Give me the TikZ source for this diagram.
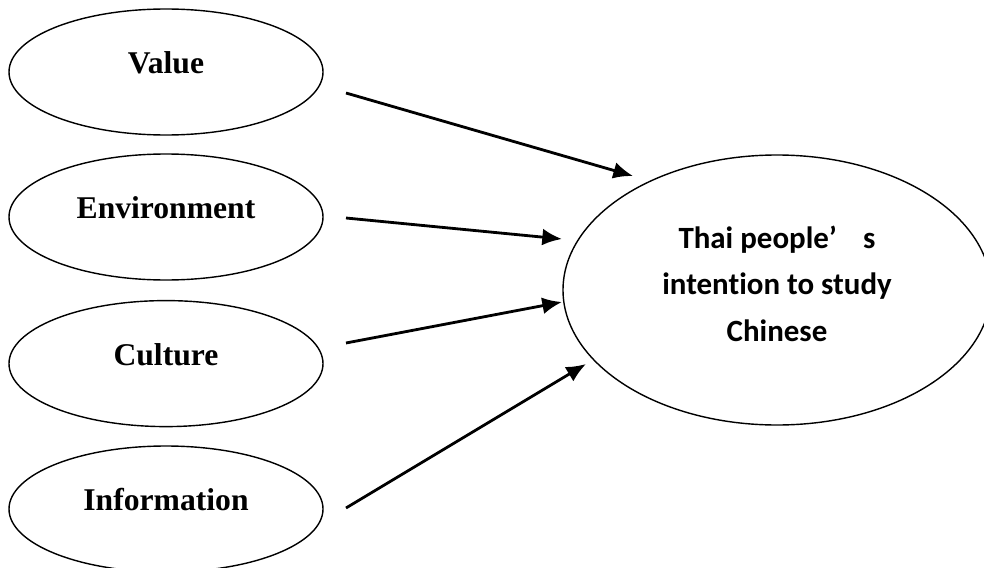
\documentclass[tikz,border=0pt]{standalone}
\usepackage{fontspec}
\setmainfont{Liberation Serif}
\newfontfamily\calibfont[Ligatures=NoCommon]{Carlito}
\usetikzlibrary{shapes.geometric, arrows.meta}

\begin{document}
\begin{tikzpicture}
        [every node/.style={inner sep=0}, ell/.style={draw,shape=ellipse,line width=1pt,minimum width=7.85cm,minimum height=3.15cm}, lab/.style={font=\fontsize{22.5}{27}\selectfont\bfseries}, arr/.style={-{Latex[length=14pt,width=12pt]}, line width=2pt}]

        \useasboundingbox (0, 0) rectangle (24.6, -14.175);

        \node[ell, label={[lab, yshift=0.225cm]center:{Value}}] (val) at (4.15, -1.8) {};
        \node[ell, label={[lab, yshift=0.225cm]center:{Environment}}] (env) at (4.15, -5.425) {};
        \node[ell, label={[lab, yshift=0.225cm]center:{Culture}}] (cul) at (4.15, -9.09) {};
        \node[ell, label={[lab, yshift=0.225cm]center:{Information}}] (inf) at (4.15, -12.725) {};

        \node[ell, minimum width=10.7cm, minimum height=6.75cm, label={[align=center, font=\calibfont\fontsize{22}{33}\selectfont\bfseries, yshift=0.16cm]center:{Thai people’\hspace{0.85em}s\\intention to study\\Chinese}}] (thai) at (19.425, -7.25) {};

        \coordinate (val-out) at (8.65, -2.325);
        \coordinate (env-out) at (8.65, -5.45);
        \coordinate (cul-out) at (8.65, -8.575);
        \coordinate (inf-out) at (8.65, -12.7);
        \coordinate (thai-in1) at (15.825, -4.4);
        \coordinate (thai-in2) at (14.05, -5.975);
        \coordinate (thai-in3) at (14.05, -7.55);
        \coordinate (thai-in4) at (14.65, -9.1);

        \draw[arr] (val-out) -- (thai-in1);
        \draw[arr] (env-out) -- (thai-in2);
        \draw[arr] (cul-out) -- (thai-in3);
        \draw[arr] (inf-out) -- (thai-in4);

      \end{tikzpicture}
\end{document}
